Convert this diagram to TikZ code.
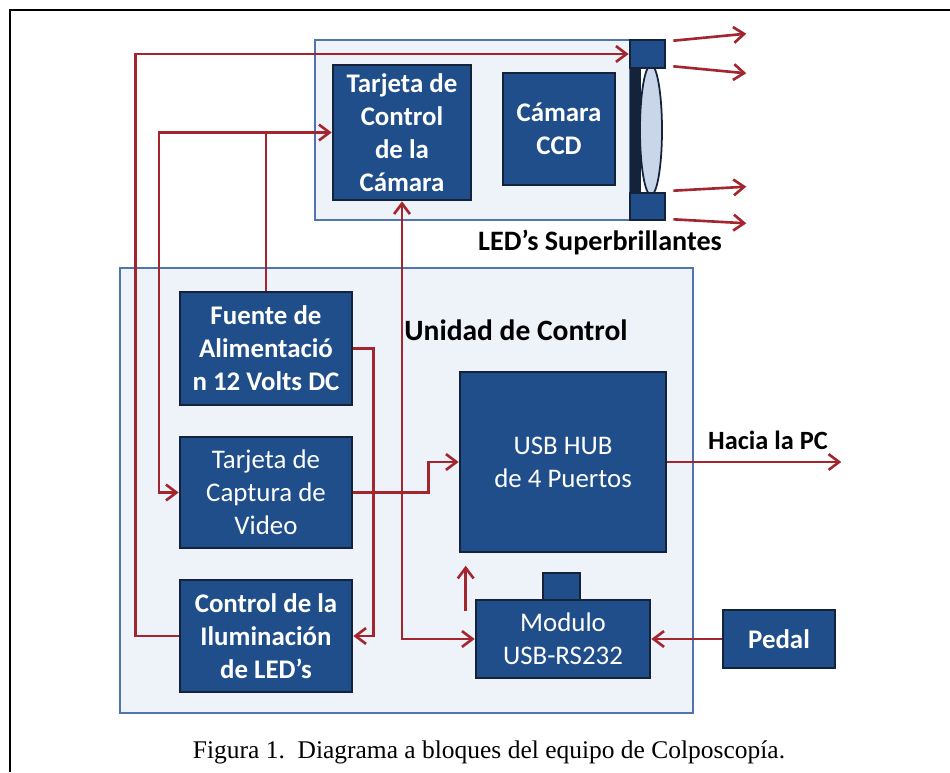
\documentclass[tikz,border=0pt]{standalone}
\usepackage{fontspec}
\setmainfont{Liberation Serif}
\setsansfont{Carlito}
\usepackage{tikz}
\usetikzlibrary{arrows.meta, positioning, calc, shapes.geometric}
\tikzset{every node/.style={font=\sffamily}}
\usepackage{xcolor}
\definecolor{navy}{HTML}{1F4E8A}
\definecolor{navyedge}{HTML}{14233A}
\definecolor{panelfill}{HTML}{EEF3FA}
\definecolor{paneledge}{HTML}{4F74AE}
\definecolor{lensfill}{HTML}{C9D6EA}
\definecolor{wirered}{HTML}{A3262E}

\begin{document}
\begin{tikzpicture}[x=0.02cm, y=-0.02cm, >={Straight Barb[length=6pt, width=9pt]},
    panelbox/.style={draw=paneledge, fill=panelfill, line width=1.2pt},
    blockbox/.style={draw=navyedge, fill=navy, line width=1.5pt, text=white, align=center, inner sep=2pt,
      font=\sffamily\fontsize{15.3}{18.7}\selectfont},
    boldblock/.style={blockbox, font=\sffamily\bfseries\fontsize{15.3}{18.7}\selectfont},
    tag/.style={font=\sffamily\bfseries\fontsize{16}{19}\selectfont, inner sep=1pt},
    wire/.style={draw=wirered, line width=1.5pt}]
  \useasboundingbox (0,0) rectangle (950,772);
  \draw[line width=1.1pt] (10,772) -- (10,10) -- (950,10);

  % panels
  \node[panelbox, minimum width=6.3cm, minimum height=3.6cm] (campanel) at (472.5,130) {};
  \node[panelbox, minimum width=11.46cm, minimum height=8.9cm] (unitpanel) at (406.5,490.5) {};

  % led holder and lens
  \fill[navyedge] (630,40) rectangle (641,220);
  \node[ellipse, draw=navyedge, fill=lensfill, line width=1pt, minimum width=0.44cm, minimum height=2.6cm] (lens) at (651,130) {};
  \node[blockbox, minimum width=0.7cm, minimum height=0.56cm] (ledtop) at (647.5,54) {};
  \node[blockbox, minimum width=0.7cm, minimum height=0.54cm] (ledbot) at (647.5,206.5) {};

  % blocks
  \node[boldblock, minimum width=2.76cm, minimum height=2.7cm] (tcc) at (402,132.5) {Tarjeta de\\Control\\de la\\Cámara};
  \node[boldblock, minimum width=2.24cm, minimum height=2.24cm] (ccd) at (559,129) {Cámara\\CCD};
  \node[boldblock, minimum width=3.44cm, minimum height=2.26cm] (fuente) at (266,348.5) {Fuente de\\Alimentació\\n 12 Volts DC};
  \node[blockbox, minimum width=3.44cm, minimum height=2.22cm] (captura) at (266,492.5) {Tarjeta de\\Captura de\\Video};
  \node[boldblock, minimum width=3.44cm, minimum height=2.24cm] (ilum) at (266,636) {Control de la\\Iluminación\\de LED’s};
  \node[blockbox, minimum width=4.12cm, minimum height=3.6cm] (hub) at (563,462) {USB HUB\\de 4 Puertos};
  \node[blockbox, minimum width=0.74cm, minimum height=0.54cm] (tab) at (561.5,586.5) {};
  \node[blockbox, minimum width=3.48cm, minimum height=1.56cm] (modulo) at (563,639) {Modulo\\USB-RS232};
  \node[boldblock, minimum width=2.24cm, minimum height=1.16cm] (pedal) at (779,639) {Pedal};

  % labels
  \node[tag] (ledlabel) at (600,242) {LED’s Superbrillantes};
  \node[tag, font=\sffamily\bfseries\fontsize{16.8}{20}\selectfont] (unitlabel) at (516,330) {Unidad de Control};
  \node[tag, font=\sffamily\bfseries\fontsize{15}{18}\selectfont] (pclabel) at (768,440) {Hacia la PC};

  % connections
  \draw[wire, ->] (ilum.west) -- ++(-43,0) |- (ledtop.west);
  \coordinate (jn) at (fuente.north |- tcc.west);
  \draw[wire, ->] (fuente.north) |- (tcc.west);
  \draw[wire, ->] (jn) -- ++(-107,0) |- (captura.west);
  \draw[wire, ->] (fuente.east) -- ++(20,0) |- (ilum.east);
  \draw[wire, <->] (tcc.south) -- (tcc.south |- modulo.west) -- (modulo.west);
  \draw[wire, ->] (captura.east) -- ++(75,0) |- (hub.west);
  \draw[wire, ->] ($(modulo.north west)+(-9,12)$) -- ++(0,-45);
  \draw[wire, ->] (pedal.west) -- (modulo.east);
  \draw[wire, ->] (hub.east) -- ++(174,0) coordinate (pc);

  % light from the leds
  \draw[wire, ->] ($(ledtop.north east)+(7,2)$) -- ++(73,-7);
  \draw[wire, ->] ($(ledtop.south east)+(7,-3)$) -- ++(73,7);
  \draw[wire, ->] ($(ledbot.north east)+(7,-1)$) -- ++(73,-4);
  \draw[wire, ->] ($(ledbot.south east)+(7,-2)$) -- ++(73,4);

  \node[font=\rmfamily\fontsize{14.5}{17}\selectfont] (caption) at (489,752) {Figura 1.\ \ Diagrama a bloques del equipo de Colposcopía.};
\end{tikzpicture}
\end{document}
